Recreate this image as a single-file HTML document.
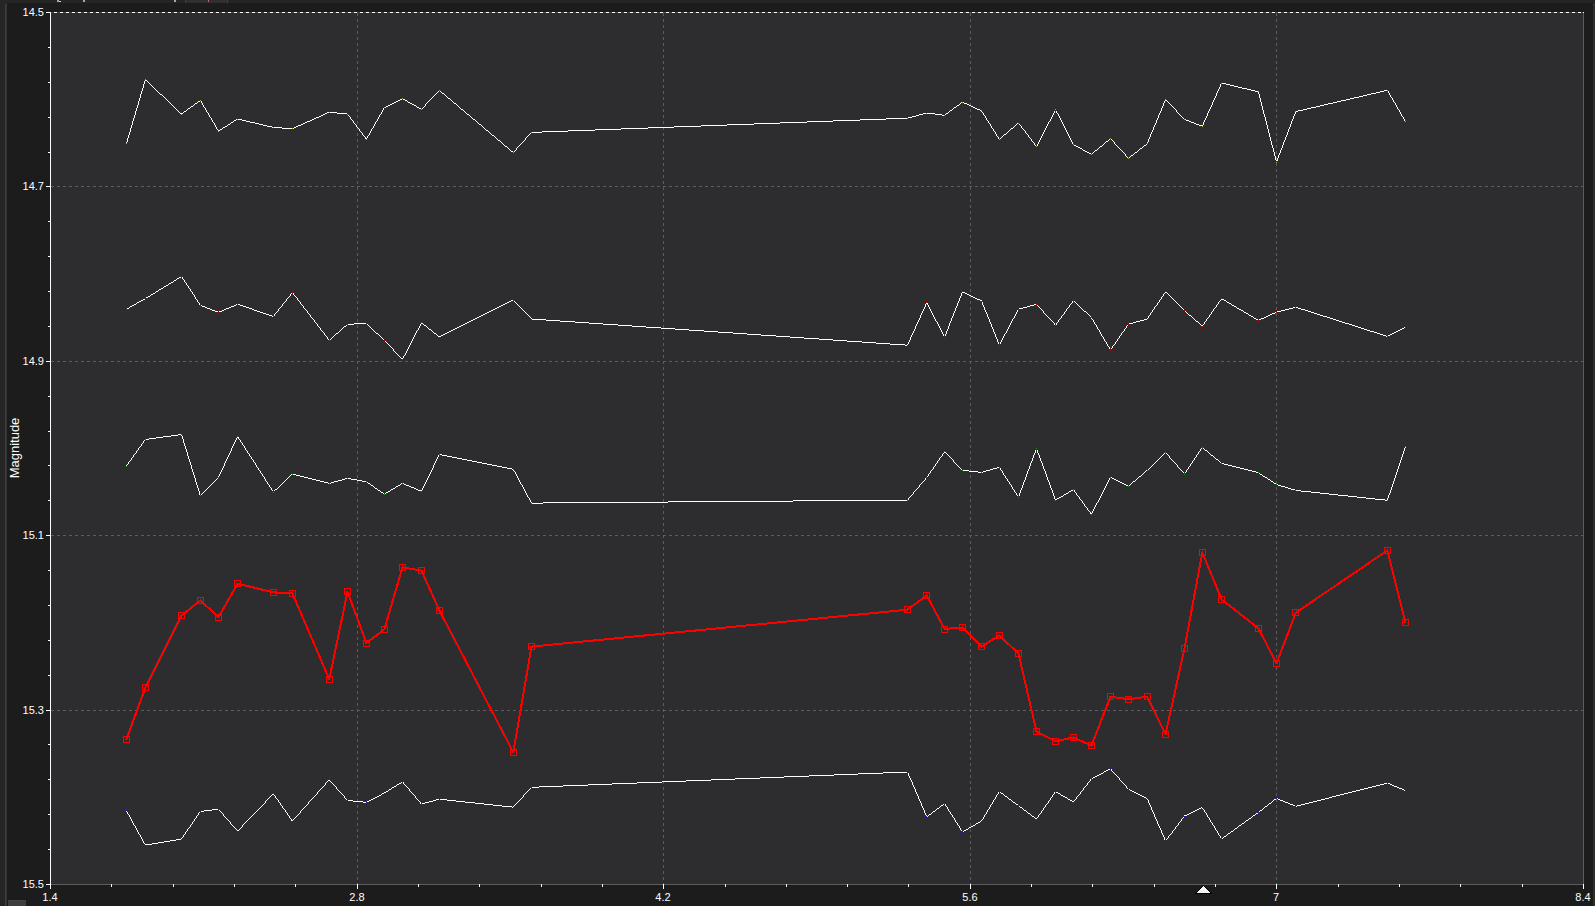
<!DOCTYPE html><html lang="en"><head><meta charset="utf-8"><title>Magnitude plot</title><style>
html,body{margin:0;padding:0;background:#252526;width:1595px;height:906px;overflow:hidden}
svg{display:block;position:absolute;left:0;top:0}
text{font-family:"Liberation Sans",sans-serif;fill:#fff}
.t{font-size:11px}.yt{font-size:13px}
</style></head><body>
<svg width="1595" height="906" viewBox="0 0 1595 906">
<g shape-rendering="crispEdges">
<rect x="0" y="0" width="1595" height="906" fill="#252526"/>
<rect x="185" y="0" width="43" height="3" fill="#2f2f31"/><rect x="185" y="0" width="1" height="3" fill="#3f3f42"/><rect x="227" y="0" width="1" height="3" fill="#3f3f42"/><rect x="208" y="0" width="1" height="2" fill="#c86464"/>
<rect x="57" y="0" width="2" height="2" fill="#9aa6b8"/><rect x="59" y="1" width="2" height="1" fill="#d8d0c0"/><rect x="83" y="0" width="2" height="2" fill="#a8a8a8"/><rect x="174" y="0" width="2" height="2" fill="#a8a8a8"/>
<rect x="7" y="3" width="1586" height="903" fill="#1c1c1c"/>
<rect x="5" y="4" width="1" height="902" fill="#3e3e3e"/><rect x="6" y="4" width="1" height="902" fill="#323232"/>
<rect x="1593" y="4" width="2" height="902" fill="#2f2f2f"/><rect x="1593" y="4" width="2" height="1" fill="#444444"/>
<rect x="8" y="900" width="18" height="6" fill="#3d3d3d"/><rect x="8" y="900" width="18" height="1" fill="#424242"/>
<rect x="51" y="12" width="1533" height="873" fill="#2d2d30"/>
<line x1="51" y1="186.5" x2="1583" y2="186.5" stroke="#5c5c5c" stroke-width="1" stroke-dasharray="3 3"/>
<line x1="51" y1="361.5" x2="1583" y2="361.5" stroke="#5c5c5c" stroke-width="1" stroke-dasharray="3 3"/>
<line x1="51" y1="535.5" x2="1583" y2="535.5" stroke="#5c5c5c" stroke-width="1" stroke-dasharray="3 3"/>
<line x1="51" y1="710.5" x2="1583" y2="710.5" stroke="#5c5c5c" stroke-width="1" stroke-dasharray="3 3"/>
<line x1="357.5" y1="13" x2="357.5" y2="884" stroke="#5c5c5c" stroke-width="1" stroke-dasharray="3 3"/>
<line x1="663.5" y1="13" x2="663.5" y2="884" stroke="#5c5c5c" stroke-width="1" stroke-dasharray="3 3"/>
<line x1="970.5" y1="13" x2="970.5" y2="884" stroke="#5c5c5c" stroke-width="1" stroke-dasharray="3 3"/>
<line x1="1276.5" y1="13" x2="1276.5" y2="884" stroke="#5c5c5c" stroke-width="1" stroke-dasharray="3 3"/>
<line x1="51" y1="12.5" x2="1584" y2="12.5" stroke="#47474a" stroke-width="1"/>
<line x1="54" y1="12.5" x2="1584" y2="12.5" stroke="#fff" stroke-width="1" stroke-dasharray="3 3"/>
<rect x="1583" y="12" width="1" height="1" fill="#fff"/>
<rect x="1583" y="13" width="1" height="872" fill="#5c5c5c"/>
<rect x="51" y="884" width="1533" height="1" fill="#5c5c5c"/>
<rect x="50" y="12" width="1" height="877" fill="#fff"/>
<rect x="46" y="12" width="4" height="1" fill="#fff"/>
<rect x="48" y="47" width="2" height="1" fill="#fff"/>
<rect x="48" y="82" width="2" height="1" fill="#fff"/>
<rect x="48" y="117" width="2" height="1" fill="#fff"/>
<rect x="48" y="152" width="2" height="1" fill="#fff"/>
<rect x="46" y="186" width="4" height="1" fill="#fff"/>
<rect x="48" y="221" width="2" height="1" fill="#fff"/>
<rect x="48" y="256" width="2" height="1" fill="#fff"/>
<rect x="48" y="291" width="2" height="1" fill="#fff"/>
<rect x="48" y="326" width="2" height="1" fill="#fff"/>
<rect x="46" y="361" width="4" height="1" fill="#fff"/>
<rect x="48" y="396" width="2" height="1" fill="#fff"/>
<rect x="48" y="431" width="2" height="1" fill="#fff"/>
<rect x="48" y="465" width="2" height="1" fill="#fff"/>
<rect x="48" y="500" width="2" height="1" fill="#fff"/>
<rect x="46" y="535" width="4" height="1" fill="#fff"/>
<rect x="48" y="570" width="2" height="1" fill="#fff"/>
<rect x="48" y="605" width="2" height="1" fill="#fff"/>
<rect x="48" y="640" width="2" height="1" fill="#fff"/>
<rect x="48" y="675" width="2" height="1" fill="#fff"/>
<rect x="46" y="710" width="4" height="1" fill="#fff"/>
<rect x="48" y="744" width="2" height="1" fill="#fff"/>
<rect x="48" y="779" width="2" height="1" fill="#fff"/>
<rect x="48" y="814" width="2" height="1" fill="#fff"/>
<rect x="48" y="849" width="2" height="1" fill="#fff"/>
<rect x="46" y="884" width="4" height="1" fill="#fff"/>
<rect x="50" y="884" width="1" height="5" fill="#fff"/>
<rect x="111" y="884" width="1" height="3" fill="#fff"/>
<rect x="173" y="884" width="1" height="3" fill="#fff"/>
<rect x="234" y="884" width="1" height="3" fill="#fff"/>
<rect x="295" y="884" width="1" height="3" fill="#fff"/>
<rect x="357" y="884" width="1" height="5" fill="#fff"/>
<rect x="418" y="884" width="1" height="3" fill="#fff"/>
<rect x="479" y="884" width="1" height="3" fill="#fff"/>
<rect x="541" y="884" width="1" height="3" fill="#fff"/>
<rect x="602" y="884" width="1" height="3" fill="#fff"/>
<rect x="663" y="884" width="1" height="5" fill="#fff"/>
<rect x="725" y="884" width="1" height="3" fill="#fff"/>
<rect x="786" y="884" width="1" height="3" fill="#fff"/>
<rect x="847" y="884" width="1" height="3" fill="#fff"/>
<rect x="908" y="884" width="1" height="3" fill="#fff"/>
<rect x="970" y="884" width="1" height="5" fill="#fff"/>
<rect x="1031" y="884" width="1" height="3" fill="#fff"/>
<rect x="1092" y="884" width="1" height="3" fill="#fff"/>
<rect x="1154" y="884" width="1" height="3" fill="#fff"/>
<rect x="1215" y="884" width="1" height="3" fill="#fff"/>
<rect x="1276" y="884" width="1" height="5" fill="#fff"/>
<rect x="1338" y="884" width="1" height="3" fill="#fff"/>
<rect x="1399" y="884" width="1" height="3" fill="#fff"/>
<rect x="1460" y="884" width="1" height="3" fill="#fff"/>
<rect x="1522" y="884" width="1" height="3" fill="#fff"/>
<rect x="1583" y="884" width="1" height="5" fill="#fff"/>
</g>
<path fill="#fff" shape-rendering="crispEdges" d="M125.90 143.8L144.90 79.7L145.90 79.7L126.90 143.8ZM145.4 79.20L181.5 113.50L181.5 114.50L145.4 80.20ZM181.5 113.50L200.4 99.90L200.4 100.90L181.5 114.50ZM199.90 100.4L218.00 131.1L219.00 131.1L200.90 100.4ZM218.5 130.60L237.6 118.50L237.6 119.50L218.5 131.60ZM237.6 118.50L273.4 126.90L273.4 127.90L237.6 119.50ZM273.4 126.90L292.4 128.20L292.4 129.20L273.4 127.90ZM292.4 128.20L329.3 111.70L329.3 112.70L292.4 129.20ZM329.3 111.70L347.5 113.50L347.5 114.50L329.3 112.70ZM347.00 114.0L365.90 139.2L366.90 139.2L348.00 114.0ZM365.90 139.2L383.90 107.8L384.90 107.8L366.90 139.2ZM384.4 107.30L402.5 98.30L402.5 99.30L384.4 108.30ZM402.5 98.30L421.5 108.70L421.5 109.70L402.5 99.30ZM421.00 109.2L438.90 90.4L439.90 90.4L422.00 109.2ZM439.4 89.90L513.3 152.10L513.3 153.10L439.4 90.90ZM512.80 152.6L531.00 132.4L532.00 132.4L513.80 152.6ZM531.5 131.90L907.5 117.70L907.5 118.70L531.5 132.90ZM907.5 117.70L926.8 112.50L926.8 113.50L907.5 118.70ZM926.8 112.50L944.6 114.80L944.6 115.80L926.8 113.50ZM944.6 114.80L962.5 101.60L962.5 102.60L944.6 115.80ZM962.5 101.60L981.6 110.40L981.6 111.40L962.5 102.60ZM981.10 110.9L998.80 139.4L999.80 139.4L982.10 110.9ZM999.3 138.90L1018.5 122.50L1018.5 123.50L999.3 139.90ZM1018.00 123.0L1036.00 146.5L1037.00 146.5L1019.00 123.0ZM1036.00 146.5L1055.10 109.8L1056.10 109.8L1037.00 146.5ZM1055.10 109.8L1072.90 144.5L1073.90 144.5L1056.10 109.8ZM1073.4 144.00L1091.4 153.90L1091.4 154.90L1073.4 145.00ZM1091.4 153.90L1110.5 138.10L1110.5 139.10L1091.4 154.90ZM1110.00 138.6L1128.00 158.3L1129.00 158.3L1111.00 138.6ZM1128.5 157.80L1147.1 143.30L1147.1 144.30L1128.5 158.80ZM1146.60 143.8L1165.10 99.7L1166.10 99.7L1147.60 143.8ZM1165.10 99.7L1184.00 119.3L1185.00 119.3L1166.10 99.7ZM1184.5 118.80L1202.3 125.80L1202.3 126.80L1184.5 119.80ZM1201.80 126.3L1221.10 83.0L1222.10 83.0L1202.80 126.3ZM1221.6 82.50L1258.4 91.30L1258.4 92.30L1221.6 83.50ZM1257.90 91.8L1276.00 162.0L1277.00 162.0L1258.90 91.8ZM1276.00 162.0L1295.30 111.6L1296.30 111.6L1277.00 162.0ZM1295.8 111.10L1387.4 89.80L1387.4 90.80L1295.8 112.10ZM1386.90 90.3L1404.90 121.4L1405.90 121.4L1387.90 90.3Z"/>
<g fill="#b4a000" shape-rendering="crispEdges"><rect x="126" y="143" width="1" height="1"/><rect x="145" y="79" width="1" height="1"/><rect x="181" y="114" width="1" height="1"/><rect x="200" y="100" width="1" height="1"/><rect x="218" y="131" width="1" height="1"/><rect x="237" y="119" width="1" height="1"/><rect x="273" y="127" width="1" height="1"/><rect x="292" y="128" width="1" height="1"/><rect x="329" y="112" width="1" height="1"/><rect x="347" y="114" width="1" height="1"/><rect x="366" y="139" width="1" height="1"/><rect x="384" y="107" width="1" height="1"/><rect x="402" y="98" width="1" height="1"/><rect x="421" y="109" width="1" height="1"/><rect x="439" y="90" width="1" height="1"/><rect x="513" y="152" width="1" height="1"/><rect x="531" y="132" width="1" height="1"/><rect x="907" y="118" width="1" height="1"/><rect x="926" y="113" width="1" height="1"/><rect x="944" y="115" width="1" height="1"/><rect x="962" y="102" width="1" height="1"/><rect x="981" y="110" width="1" height="1"/><rect x="999" y="139" width="1" height="1"/><rect x="1018" y="123" width="1" height="1"/><rect x="1036" y="146" width="1" height="1"/><rect x="1055" y="109" width="1" height="1"/><rect x="1073" y="144" width="1" height="1"/><rect x="1091" y="154" width="1" height="1"/><rect x="1110" y="138" width="1" height="1"/><rect x="1128" y="158" width="1" height="1"/><rect x="1147" y="143" width="1" height="1"/><rect x="1165" y="99" width="1" height="1"/><rect x="1184" y="119" width="1" height="1"/><rect x="1202" y="126" width="1" height="1"/><rect x="1221" y="83" width="1" height="1"/><rect x="1258" y="91" width="1" height="1"/><rect x="1276" y="162" width="1" height="1"/><rect x="1295" y="111" width="1" height="1"/><rect x="1387" y="90" width="1" height="1"/><rect x="1405" y="121" width="1" height="1"/></g>
<path fill="#fff" shape-rendering="crispEdges" d="M126.4 308.70L145.4 298.10L145.4 299.10L126.4 309.70ZM145.4 298.10L181.5 276.00L181.5 277.00L145.4 299.10ZM181.00 276.5L199.90 305.2L200.90 305.2L182.00 276.5ZM200.4 304.70L218.5 311.90L218.5 312.90L200.4 305.70ZM218.5 311.90L237.6 303.80L237.6 304.80L218.5 312.90ZM237.6 303.80L273.4 315.90L273.4 316.90L237.6 304.80ZM272.90 316.4L291.90 292.5L292.90 292.5L273.90 316.4ZM291.90 292.5L328.80 340.3L329.80 340.3L292.90 292.5ZM329.3 339.80L347.5 323.80L347.5 324.80L329.3 340.80ZM347.5 323.80L366.4 322.90L366.4 323.90L347.5 324.80ZM366.4 322.90L384.4 340.00L384.4 341.00L366.4 323.90ZM383.90 340.5L402.00 359.4L403.00 359.4L384.90 340.5ZM402.00 359.4L421.00 322.8L422.00 322.8L403.00 359.4ZM421.5 322.30L439.4 336.50L439.4 337.50L421.5 323.30ZM439.4 336.50L513.3 299.60L513.3 300.60L439.4 337.50ZM512.80 300.1L531.00 319.0L532.00 319.0L513.80 300.1ZM531.5 318.50L907.5 344.70L907.5 345.70L531.5 319.50ZM907.00 345.2L926.30 302.6L927.30 302.6L908.00 345.2ZM926.30 302.6L944.10 337.2L945.10 337.2L927.30 302.6ZM944.10 337.2L962.00 291.8L963.00 291.8L945.10 337.2ZM962.5 291.30L981.6 300.50L981.6 301.50L962.5 292.30ZM981.10 301.0L998.80 345.1L999.80 345.1L982.10 301.0ZM998.80 345.1L1018.00 309.2L1019.00 309.2L999.80 345.1ZM1018.5 308.70L1036.5 303.80L1036.5 304.80L1018.5 309.70ZM1036.00 304.3L1055.10 325.2L1056.10 325.2L1037.00 304.3ZM1055.10 325.2L1072.90 300.6L1073.90 300.6L1056.10 325.2ZM1073.4 300.10L1091.4 317.00L1091.4 318.00L1073.4 301.10ZM1090.90 317.5L1110.00 350.0L1111.00 350.0L1091.90 317.5ZM1110.00 350.0L1128.00 324.1L1129.00 324.1L1111.00 350.0ZM1128.5 323.60L1147.1 318.70L1147.1 319.70L1128.5 324.60ZM1146.60 319.2L1165.10 291.8L1166.10 291.8L1147.60 319.2ZM1165.6 291.30L1184.5 310.20L1184.5 311.20L1165.6 292.30ZM1184.5 310.20L1202.3 325.60L1202.3 326.60L1184.5 311.20ZM1201.80 326.1L1221.10 298.7L1222.10 298.7L1202.80 326.1ZM1221.6 298.20L1258.4 319.80L1258.4 320.80L1221.6 299.20ZM1258.4 319.80L1276.5 311.70L1276.5 312.70L1258.4 320.80ZM1276.5 311.70L1295.8 306.70L1295.8 307.70L1276.5 312.70ZM1295.8 306.70L1387.4 335.90L1387.4 336.90L1295.8 307.70ZM1387.4 335.90L1405.4 326.90L1405.4 327.90L1387.4 336.90Z"/>
<g fill="#e00000" shape-rendering="crispEdges"><rect x="126" y="309" width="1" height="1"/><rect x="145" y="298" width="1" height="1"/><rect x="181" y="276" width="1" height="1"/><rect x="200" y="305" width="1" height="1"/><rect x="218" y="312" width="1" height="1"/><rect x="237" y="304" width="1" height="1"/><rect x="273" y="316" width="1" height="1"/><rect x="292" y="292" width="1" height="1"/><rect x="329" y="340" width="1" height="1"/><rect x="347" y="324" width="1" height="1"/><rect x="366" y="323" width="1" height="1"/><rect x="384" y="340" width="1" height="1"/><rect x="402" y="359" width="1" height="1"/><rect x="421" y="322" width="1" height="1"/><rect x="439" y="337" width="1" height="1"/><rect x="513" y="300" width="1" height="1"/><rect x="531" y="319" width="1" height="1"/><rect x="907" y="345" width="1" height="1"/><rect x="926" y="302" width="1" height="1"/><rect x="944" y="337" width="1" height="1"/><rect x="962" y="291" width="1" height="1"/><rect x="981" y="301" width="1" height="1"/><rect x="999" y="345" width="1" height="1"/><rect x="1018" y="309" width="1" height="1"/><rect x="1036" y="304" width="1" height="1"/><rect x="1055" y="325" width="1" height="1"/><rect x="1073" y="300" width="1" height="1"/><rect x="1091" y="317" width="1" height="1"/><rect x="1110" y="350" width="1" height="1"/><rect x="1128" y="324" width="1" height="1"/><rect x="1147" y="319" width="1" height="1"/><rect x="1165" y="291" width="1" height="1"/><rect x="1184" y="310" width="1" height="1"/><rect x="1202" y="326" width="1" height="1"/><rect x="1221" y="298" width="1" height="1"/><rect x="1258" y="320" width="1" height="1"/><rect x="1276" y="312" width="1" height="1"/><rect x="1295" y="307" width="1" height="1"/><rect x="1387" y="336" width="1" height="1"/><rect x="1405" y="327" width="1" height="1"/></g>
<path fill="#fff" shape-rendering="crispEdges" d="M125.90 466.1L144.90 439.5L145.90 439.5L126.90 466.1ZM145.4 439.00L181.5 434.00L181.5 435.00L145.4 440.00ZM181.00 434.5L199.90 495.9L200.90 495.9L182.00 434.5ZM199.90 495.9L218.00 477.3L219.00 477.3L200.90 495.9ZM218.00 477.3L237.10 436.5L238.10 436.5L219.00 477.3ZM237.10 436.5L272.90 492.0L273.90 492.0L238.10 436.5ZM273.4 491.50L292.4 473.50L292.4 474.50L273.4 492.50ZM292.4 473.50L329.3 482.90L329.3 483.90L292.4 474.50ZM329.3 482.90L347.5 477.90L347.5 478.90L329.3 483.90ZM347.5 477.90L366.4 481.20L366.4 482.20L347.5 478.90ZM366.4 481.20L384.4 493.70L384.4 494.70L366.4 482.20ZM384.4 493.70L402.5 482.90L402.5 483.90L384.4 494.70ZM402.5 482.90L421.5 490.80L421.5 491.80L402.5 483.90ZM421.00 491.3L438.90 454.4L439.90 454.4L422.00 491.3ZM439.4 453.90L513.3 468.70L513.3 469.70L439.4 454.90ZM512.80 469.2L531.00 503.1L532.00 503.1L513.80 469.2ZM531.5 502.60L907.5 499.60L907.5 500.60L531.5 503.60ZM907.00 500.1L926.30 477.5L927.30 477.5L908.00 500.1ZM926.30 477.5L944.10 451.8L945.10 451.8L927.30 477.5ZM944.10 451.8L962.00 470.3L963.00 470.3L945.10 451.8ZM962.5 469.80L981.6 471.90L981.6 472.90L962.5 470.80ZM981.6 471.90L999.3 466.70L999.3 467.70L981.6 472.90ZM998.80 467.2L1018.00 497.2L1019.00 497.2L999.80 467.2ZM1018.00 497.2L1036.00 448.5L1037.00 448.5L1019.00 497.2ZM1036.00 448.5L1055.10 500.1L1056.10 500.1L1037.00 448.5ZM1055.6 499.60L1073.4 489.10L1073.4 490.10L1055.6 500.60ZM1072.90 489.6L1090.90 514.4L1091.90 514.4L1073.90 489.6ZM1090.90 514.4L1110.00 477.3L1111.00 477.3L1091.90 514.4ZM1110.5 476.80L1128.5 485.60L1128.5 486.60L1110.5 477.80ZM1128.5 485.60L1147.1 470.00L1147.1 471.00L1128.5 486.60ZM1147.1 470.00L1165.6 452.00L1165.6 453.00L1147.1 471.00ZM1165.10 452.5L1184.00 474.0L1185.00 474.0L1166.10 452.5ZM1184.00 474.0L1201.80 447.5L1202.80 447.5L1185.00 474.0ZM1202.3 447.00L1221.6 462.80L1221.6 463.80L1202.3 448.00ZM1221.6 462.80L1258.4 472.20L1258.4 473.20L1221.6 463.80ZM1258.4 472.20L1276.5 484.00L1276.5 485.00L1258.4 473.20ZM1276.5 484.00L1295.8 489.90L1295.8 490.90L1276.5 485.00ZM1295.8 489.90L1387.4 499.80L1387.4 500.80L1295.8 490.90ZM1386.90 500.3L1404.90 446.8L1405.90 446.8L1387.90 500.3Z"/>
<g fill="#00a800" shape-rendering="crispEdges"><rect x="126" y="466" width="1" height="1"/><rect x="145" y="439" width="1" height="1"/><rect x="181" y="434" width="1" height="1"/><rect x="200" y="495" width="1" height="1"/><rect x="218" y="477" width="1" height="1"/><rect x="237" y="436" width="1" height="1"/><rect x="273" y="492" width="1" height="1"/><rect x="292" y="474" width="1" height="1"/><rect x="329" y="483" width="1" height="1"/><rect x="347" y="478" width="1" height="1"/><rect x="366" y="481" width="1" height="1"/><rect x="384" y="494" width="1" height="1"/><rect x="402" y="483" width="1" height="1"/><rect x="421" y="491" width="1" height="1"/><rect x="439" y="454" width="1" height="1"/><rect x="513" y="469" width="1" height="1"/><rect x="531" y="503" width="1" height="1"/><rect x="907" y="500" width="1" height="1"/><rect x="926" y="477" width="1" height="1"/><rect x="944" y="451" width="1" height="1"/><rect x="962" y="470" width="1" height="1"/><rect x="981" y="472" width="1" height="1"/><rect x="999" y="467" width="1" height="1"/><rect x="1018" y="497" width="1" height="1"/><rect x="1036" y="448" width="1" height="1"/><rect x="1055" y="500" width="1" height="1"/><rect x="1073" y="489" width="1" height="1"/><rect x="1091" y="514" width="1" height="1"/><rect x="1110" y="477" width="1" height="1"/><rect x="1128" y="486" width="1" height="1"/><rect x="1147" y="470" width="1" height="1"/><rect x="1165" y="452" width="1" height="1"/><rect x="1184" y="474" width="1" height="1"/><rect x="1202" y="447" width="1" height="1"/><rect x="1221" y="463" width="1" height="1"/><rect x="1258" y="472" width="1" height="1"/><rect x="1276" y="484" width="1" height="1"/><rect x="1295" y="490" width="1" height="1"/><rect x="1387" y="500" width="1" height="1"/><rect x="1405" y="446" width="1" height="1"/></g>
<path fill="#fff" shape-rendering="crispEdges" d="M125.90 810.7L144.90 845.2L145.90 845.2L126.90 810.7ZM145.4 844.70L181.5 838.50L181.5 839.50L145.4 845.70ZM181.00 839.0L199.90 811.4L200.90 811.4L182.00 839.0ZM200.4 810.90L218.5 808.70L218.5 809.70L200.4 811.90ZM218.00 809.2L237.10 831.1L238.10 831.1L219.00 809.2ZM237.10 831.1L272.90 793.8L273.90 793.8L238.10 831.1ZM272.90 793.8L291.90 821.1L292.90 821.1L273.90 793.8ZM291.90 821.1L328.80 779.8L329.80 779.8L292.90 821.1ZM328.80 779.8L347.00 800.4L348.00 800.4L329.80 779.8ZM347.5 799.90L366.4 801.90L366.4 802.90L347.5 800.90ZM366.4 801.90L384.4 792.50L384.4 793.50L366.4 802.90ZM384.4 792.50L402.5 781.30L402.5 782.30L384.4 793.50ZM402.00 781.8L421.00 804.1L422.00 804.1L403.00 781.8ZM421.5 803.60L439.4 798.70L439.4 799.70L421.5 804.60ZM439.4 798.70L513.3 806.70L513.3 807.70L439.4 799.70ZM512.80 807.2L531.00 787.3L532.00 787.3L513.80 807.2ZM531.5 786.80L907.5 771.50L907.5 772.50L531.5 787.80ZM907.00 772.0L926.30 816.8L927.30 816.8L908.00 772.0ZM926.8 816.30L944.6 803.00L944.6 804.00L926.8 817.30ZM944.10 803.5L962.00 832.0L963.00 832.0L945.10 803.5ZM962.5 831.50L981.6 820.60L981.6 821.60L962.5 832.50ZM981.10 821.1L998.80 791.6L999.80 791.6L982.10 821.1ZM999.3 791.10L1018.5 805.20L1018.5 806.20L999.3 792.10ZM1018.5 805.20L1036.5 818.60L1036.5 819.60L1018.5 806.20ZM1036.00 819.1L1055.10 791.6L1056.10 791.6L1037.00 819.1ZM1055.6 791.10L1073.4 801.50L1073.4 802.50L1055.6 792.10ZM1072.90 802.0L1090.90 778.9L1091.90 778.9L1073.90 802.0ZM1091.4 778.40L1110.5 768.30L1110.5 769.30L1091.4 779.40ZM1110.00 768.8L1128.00 789.2L1129.00 789.2L1111.00 768.8ZM1128.5 788.70L1147.1 797.90L1147.1 798.90L1128.5 789.70ZM1146.60 798.4L1165.10 841.0L1166.10 841.0L1147.60 798.4ZM1165.10 841.0L1184.00 816.0L1185.00 816.0L1166.10 841.0ZM1184.5 815.50L1202.3 806.90L1202.3 807.90L1184.5 816.50ZM1201.80 807.4L1221.10 838.8L1222.10 838.8L1202.80 807.4ZM1221.6 838.30L1258.4 812.00L1258.4 813.00L1221.6 839.30ZM1258.4 812.00L1276.5 797.90L1276.5 798.90L1258.4 813.00ZM1276.5 797.90L1295.8 805.80L1295.8 806.80L1276.5 798.90ZM1295.8 805.80L1387.4 782.60L1387.4 783.60L1295.8 806.80ZM1387.4 782.60L1405.4 790.00L1405.4 791.00L1387.4 783.60Z"/>
<g fill="#2020e0" shape-rendering="crispEdges"><rect x="126" y="810" width="1" height="1"/><rect x="145" y="845" width="1" height="1"/><rect x="181" y="839" width="1" height="1"/><rect x="200" y="811" width="1" height="1"/><rect x="218" y="809" width="1" height="1"/><rect x="237" y="831" width="1" height="1"/><rect x="273" y="793" width="1" height="1"/><rect x="292" y="821" width="1" height="1"/><rect x="329" y="779" width="1" height="1"/><rect x="347" y="800" width="1" height="1"/><rect x="366" y="802" width="1" height="1"/><rect x="384" y="793" width="1" height="1"/><rect x="402" y="781" width="1" height="1"/><rect x="421" y="804" width="1" height="1"/><rect x="439" y="799" width="1" height="1"/><rect x="513" y="807" width="1" height="1"/><rect x="531" y="787" width="1" height="1"/><rect x="907" y="772" width="1" height="1"/><rect x="926" y="816" width="1" height="1"/><rect x="944" y="803" width="1" height="1"/><rect x="962" y="832" width="1" height="1"/><rect x="981" y="821" width="1" height="1"/><rect x="999" y="791" width="1" height="1"/><rect x="1018" y="805" width="1" height="1"/><rect x="1036" y="819" width="1" height="1"/><rect x="1055" y="791" width="1" height="1"/><rect x="1073" y="802" width="1" height="1"/><rect x="1091" y="778" width="1" height="1"/><rect x="1110" y="768" width="1" height="1"/><rect x="1128" y="789" width="1" height="1"/><rect x="1147" y="798" width="1" height="1"/><rect x="1165" y="841" width="1" height="1"/><rect x="1184" y="816" width="1" height="1"/><rect x="1202" y="807" width="1" height="1"/><rect x="1221" y="838" width="1" height="1"/><rect x="1258" y="812" width="1" height="1"/><rect x="1276" y="798" width="1" height="1"/><rect x="1295" y="806" width="1" height="1"/><rect x="1387" y="783" width="1" height="1"/><rect x="1405" y="790" width="1" height="1"/></g>
<path fill="none" stroke="#ff0000" stroke-width="2" stroke-linecap="round" shape-rendering="crispEdges" d="M126.4 739.4L145.4 687.5M145.4 687.5L181.5 615.7M181.5 615.7L200.4 600.4M200.4 600.4L218.5 617.2M218.5 617.2L237.6 583.6M237.6 583.6L273.4 592.4M273.4 592.4L292.4 593.4M292.4 593.4L329.3 679.2M329.3 679.2L347.5 591.7M347.5 591.7L366.4 643.1M366.4 643.1L384.4 629.3M384.4 629.3L402.5 567.3M402.5 567.3L421.5 570.6M421.5 570.6L439.4 610.5M439.4 610.5L513.3 752.2M513.3 752.2L531.5 646.6M531.5 646.6L907.5 609.7M907.5 609.7L926.8 595.4M926.8 595.4L944.6 629.0M944.6 629.0L962.5 627.5M962.5 627.5L981.6 646.6M981.6 646.6L999.3 635.3M999.3 635.3L1018.5 653.6M1018.5 653.6L1036.5 731.6M1036.5 731.6L1055.6 741.4M1055.6 741.4L1073.4 737.4M1073.4 737.4L1091.4 745.6M1091.4 745.6L1110.5 696.7M1110.5 696.7L1128.5 699.2M1128.5 699.2L1147.1 696.7M1147.1 696.7L1165.6 734.1M1165.6 734.1L1184.5 648.3M1184.5 648.3L1202.3 552.5M1202.3 552.5L1221.6 599.4M1221.6 599.4L1258.4 628.3M1258.4 628.3L1276.5 663.4M1276.5 663.4L1295.8 612.7M1295.8 612.7L1387.4 550.5M1387.4 550.5L1405.4 622.3"/>
<g fill="none" stroke="#ff0000" stroke-width="1" shape-rendering="crispEdges"><rect x="123.5" y="736.5" width="6" height="6"/><rect x="142.5" y="684.5" width="6" height="6"/><rect x="178.5" y="612.5" width="6" height="6"/><rect x="197.5" y="597.5" width="6" height="6"/><rect x="215.5" y="614.5" width="6" height="6"/><rect x="234.5" y="580.5" width="6" height="6"/><rect x="270.5" y="589.5" width="6" height="6"/><rect x="289.5" y="590.5" width="6" height="6"/><rect x="326.5" y="676.5" width="6" height="6"/><rect x="344.5" y="588.5" width="6" height="6"/><rect x="363.5" y="640.5" width="6" height="6"/><rect x="381.5" y="626.5" width="6" height="6"/><rect x="399.5" y="564.5" width="6" height="6"/><rect x="418.5" y="567.5" width="6" height="6"/><rect x="436.5" y="607.5" width="6" height="6"/><rect x="510.5" y="749.5" width="6" height="6"/><rect x="528.5" y="643.5" width="6" height="6"/><rect x="904.5" y="606.5" width="6" height="6"/><rect x="923.5" y="592.5" width="6" height="6"/><rect x="941.5" y="626.5" width="6" height="6"/><rect x="959.5" y="624.5" width="6" height="6"/><rect x="978.5" y="643.5" width="6" height="6"/><rect x="996.5" y="632.5" width="6" height="6"/><rect x="1015.5" y="650.5" width="6" height="6"/><rect x="1033.5" y="728.5" width="6" height="6"/><rect x="1052.5" y="738.5" width="6" height="6"/><rect x="1070.5" y="734.5" width="6" height="6"/><rect x="1088.5" y="742.5" width="6" height="6"/><rect x="1107.5" y="693.5" width="6" height="6"/><rect x="1125.5" y="696.5" width="6" height="6"/><rect x="1144.5" y="693.5" width="6" height="6"/><rect x="1162.5" y="731.5" width="6" height="6"/><rect x="1181.5" y="645.5" width="6" height="6"/><rect x="1199.5" y="549.5" width="6" height="6"/><rect x="1218.5" y="596.5" width="6" height="6"/><rect x="1255.5" y="625.5" width="6" height="6"/><rect x="1273.5" y="660.5" width="6" height="6"/><rect x="1292.5" y="609.5" width="6" height="6"/><rect x="1384.5" y="547.5" width="6" height="6"/><rect x="1402.5" y="619.5" width="6" height="6"/></g>
<path d="M1203.5 884.6 L1212.6 894 L1194.4 894 Z" fill="#000" shape-rendering="crispEdges"/>
<path d="M1203.5 886 L1210.5 893 L1196.5 893 Z" fill="#f6f6f6" shape-rendering="crispEdges"/>
<text class="t" x="44" y="16" text-anchor="end">14.5</text>
<text class="t" x="44" y="190" text-anchor="end">14.7</text>
<text class="t" x="44" y="365" text-anchor="end">14.9</text>
<text class="t" x="44" y="539" text-anchor="end">15.1</text>
<text class="t" x="44" y="714" text-anchor="end">15.3</text>
<text class="t" x="44" y="888" text-anchor="end">15.5</text>
<text class="t" x="50" y="901" text-anchor="middle">1.4</text>
<text class="t" x="357" y="901" text-anchor="middle">2.8</text>
<text class="t" x="663" y="901" text-anchor="middle">4.2</text>
<text class="t" x="970" y="901" text-anchor="middle">5.6</text>
<text class="t" x="1276" y="901" text-anchor="middle">7</text>
<text class="t" x="1583" y="901" text-anchor="middle">8.4</text>
<text class="yt" transform="translate(18.8 448) rotate(-90)" text-anchor="middle">Magnitude</text>
</svg></body></html>
